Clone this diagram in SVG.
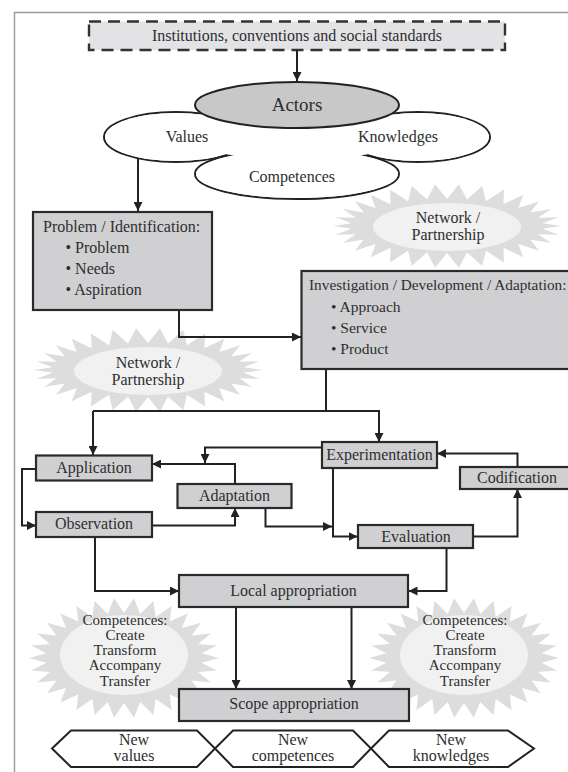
<svg xmlns="http://www.w3.org/2000/svg" width="568" height="772" viewBox="0 0 568 772" font-family="'Liberation Serif', 'Times New Roman', serif">
<style>
text{font-family:'Liberation Serif','Times New Roman',serif;fill:#2e2e2e;}
.c{text-anchor:middle;}
.box{fill:#d0d0d2;stroke:#2a2a2a;stroke-width:2.2;}
.ln{fill:none;stroke:#222;stroke-width:2;}
.arr{marker-end:url(#ah);}
.star{fill:#dddddd;}
.inner{fill:#f1f1f1;}
.wh{fill:#fff;stroke:#222;stroke-width:2;}
.whf{fill:#fff;stroke:none;}
.hex{fill:#fff;stroke:#222;stroke-width:2;stroke-linejoin:miter;}
</style>
<defs>
<marker id="ah" viewBox="0 0 10 10" refX="10" refY="5" markerWidth="9" markerHeight="9" markerUnits="userSpaceOnUse" orient="auto">
<path d="M0,0 L10,5 L0,10 Z" fill="#222"/>
</marker>
<path id="starA" d="M114,0 L95.5,2.8 111.5,8.7 91.3,8.3 104.1,17.1 83.1,13.5 92.2,24.7 71.3,18.1 76.3,31.2 56.4,21.8 57,36.4 39,24.7 35.2,39.9 20,26.4 11.9,41.8 0,27 -11.9,41.8 -20,26.4 -35.2,39.9 -39,24.7 -57,36.4 -56.4,21.8 -76.3,31.2 -71.3,18.1 -92.2,24.7 -83.1,13.5 -104.1,17.1 -91.3,8.3 -111.5,8.7 -95.5,2.8 -114,0 -95.5,-2.8 -111.5,-8.7 -91.3,-8.3 -104.1,-17.1 -83.1,-13.5 -92.2,-24.7 -71.3,-18.1 -76.3,-31.2 -56.4,-21.8 -57,-36.4 -39,-24.7 -35.2,-39.9 -20,-26.4 -11.9,-41.8 0,-27 11.9,-41.8 20,-26.4 35.2,-39.9 39,-24.7 57,-36.4 56.4,-21.8 76.3,-31.2 71.3,-18.1 92.2,-24.7 83.1,-13.5 104.1,-17.1 91.3,-8.3 111.5,-8.7 95.5,-2.8 Z"/>
<path id="starB" d="M95,0 L77.6,4.7 92.9,12.5 74.2,13.9 86.8,24.4 67.5,22.5 76.9,35.3 58,30.1 63.6,44.6 45.8,36.4 47.5,52 31.7,41.1 29.4,57.1 16.2,44 9.9,59.7 0,45 -9.9,59.7 -16.2,44 -29.4,57.1 -31.7,41.1 -47.5,52 -45.8,36.4 -63.6,44.6 -58,30.1 -76.9,35.3 -67.5,22.5 -86.8,24.4 -74.2,13.9 -92.9,12.5 -77.6,4.7 -95,0 -77.6,-4.7 -92.9,-12.5 -74.2,-13.9 -86.8,-24.4 -67.5,-22.5 -76.9,-35.3 -58,-30.1 -63.6,-44.6 -45.8,-36.4 -47.5,-52 -31.7,-41.1 -29.4,-57.1 -16.2,-44 -9.9,-59.7 0,-45 9.9,-59.7 16.2,-44 29.4,-57.1 31.7,-41.1 47.5,-52 45.8,-36.4 63.6,-44.6 58,-30.1 76.9,-35.3 67.5,-22.5 86.8,-24.4 74.2,-13.9 92.9,-12.5 77.6,-4.7 Z"/>
</defs>
<rect x="0" y="0" width="568" height="772" fill="#fff"/>
<path d="M14.5,772 V12.5 H568" fill="none" stroke="#9a9a9a" stroke-width="1.4"/>

<g id="network-top">
<use href="#starA" class="star" transform="translate(447,226)"/>
<ellipse class="inner" cx="447" cy="227" rx="74" ry="24"/>
<text class="c" x="448" y="223" font-size="16">Network /</text>
<text class="c" x="448" y="240" font-size="16">Partnership</text>
</g>
<g id="network-left">
<use href="#starA" class="star" transform="translate(148,370)"/>
<ellipse class="inner" cx="148" cy="371" rx="74" ry="24"/>
<text class="c" x="148" y="368" font-size="16">Network /</text>
<text class="c" x="148" y="385" font-size="16">Partnership</text>
</g>
<g id="competences-left">
<use href="#starB" class="star" transform="translate(124,658)"/>
<ellipse class="inner" cx="124" cy="655" rx="64" ry="40"/>
<text class="c" x="125" y="625" font-size="15">Competences:</text>
<text class="c" x="125" y="640" font-size="15">Create</text>
<text class="c" x="125" y="655" font-size="15">Transform</text>
<text class="c" x="125" y="670" font-size="15">Accompany</text>
<text class="c" x="125" y="686" font-size="15">Transfer</text>
</g>
<g id="competences-right">
<use href="#starB" class="star" transform="translate(464,658)"/>
<ellipse class="inner" cx="464" cy="655" rx="64" ry="40"/>
<text class="c" x="465" y="625" font-size="15">Competences:</text>
<text class="c" x="465" y="640" font-size="15">Create</text>
<text class="c" x="465" y="655" font-size="15">Transform</text>
<text class="c" x="465" y="670" font-size="15">Accompany</text>
<text class="c" x="465" y="686" font-size="15">Transfer</text>
</g>

<g id="institutions">
<rect x="89" y="21.5" width="416" height="28.5" fill="#e3e3e6" stroke="#333" stroke-width="2.4" stroke-dasharray="12,7"/>
<text class="c" x="297" y="40.5" font-size="16">Institutions, conventions and social standards</text>
</g>

<g id="actors-cloud">
<ellipse class="wh" cx="176" cy="137" rx="72" ry="25"/>
<ellipse class="wh" cx="418" cy="137" rx="72" ry="25"/>
<ellipse class="wh" cx="297" cy="174" rx="102" ry="25"/>
<ellipse class="whf" cx="176" cy="137" rx="71" ry="24"/>
<ellipse class="whf" cx="418" cy="137" rx="71" ry="24"/>
<ellipse class="whf" cx="297" cy="174" rx="101" ry="24"/>
<ellipse class="whf" cx="297" cy="140" rx="100" ry="20"/>
<ellipse cx="297" cy="105" rx="102" ry="23" fill="#c8c8c8" stroke="#222" stroke-width="2"/>
<text class="c" x="297" y="111" font-size="19">Actors</text>
<text class="c" x="187" y="142" font-size="16">Values</text>
<text class="c" x="398" y="142" font-size="16">Knowledges</text>
<text class="c" x="292" y="182" font-size="16">Competences</text>
</g>

<g id="connectors">
<path class="ln arr" d="M297,50 V81"/>
<path class="ln arr" d="M138,158 V211"/>
<path class="ln arr" d="M179,310 V337 H301"/>
<path class="ln" d="M326,369 V411"/>
<path class="ln arr" d="M93,411 V455"/>
<path class="ln arr" d="M93,411 H379 V442"/>
<path class="ln arr" d="M36,469 H22 V525.5 H36"/>
<path class="ln arr" d="M235,484 V464 H152"/>
<path class="ln arr" d="M322,447.5 H205 V463"/>
<path class="ln arr" d="M152,525.5 H235 V508"/>
<path class="ln arr" d="M265.5,508 V526.5 H332"/>
<path class="ln arr" d="M333,468 V536.5 H357.5"/>
<path class="ln arr" d="M473,536.5 H517.5 V489"/>
<path class="ln arr" d="M517.5,467 V453.5 H437"/>
<path class="ln arr" d="M95,537 V591 H179"/>
<path class="ln arr" d="M446.5,548 V591 H408.5"/>
<path class="ln arr" d="M236,607 V689"/>
<path class="ln arr" d="M351.5,607 V689"/>
</g>

<g id="problem">
<rect class="box" x="33" y="212" width="179" height="98"/>
<text x="43" y="232" font-size="16">Problem / Identification:</text>
<text x="65.5" y="253" font-size="16">• Problem</text>
<text x="65.5" y="274" font-size="16">• Needs</text>
<text x="65.5" y="295" font-size="16">• Aspiration</text>
</g>
<g id="investigation">
<rect class="box" x="301.5" y="271" width="280" height="98"/>
<text x="309" y="290" font-size="15.3">Investigation / Development / Adaptation:</text>
<text x="331" y="312" font-size="15.5">• Approach</text>
<text x="331" y="333" font-size="15.5">• Service</text>
<text x="331" y="354" font-size="15.5">• Product</text>
</g>
<g id="application">
<rect class="box" x="36" y="455.5" width="116" height="25"/>
<text class="c" x="94" y="473" font-size="16">Application</text>
</g>
<g id="adaptation">
<rect class="box" x="177.5" y="484" width="114" height="24"/>
<text class="c" x="234.5" y="500.5" font-size="16">Adaptation</text>
</g>
<g id="observation">
<rect class="box" x="36" y="512" width="116" height="25"/>
<text class="c" x="94" y="529" font-size="16">Observation</text>
</g>
<g id="experimentation">
<rect class="box" x="322" y="442" width="115" height="26"/>
<text class="c" x="379.5" y="460" font-size="16">Experimentation</text>
</g>
<g id="codification">
<rect class="box" x="460" y="467" width="112" height="22"/>
<text class="c" x="517" y="483" font-size="16">Codification</text>
</g>
<g id="evaluation">
<rect class="box" x="358" y="525" width="115" height="23"/>
<text class="c" x="416" y="542" font-size="16">Evaluation</text>
</g>
<g id="local-appropriation">
<rect class="box" x="179" y="575" width="229" height="32"/>
<text class="c" x="293.5" y="596" font-size="16">Local appropriation</text>
</g>
<g id="scope-appropriation">
<rect class="box" x="179" y="689" width="230" height="32"/>
<text class="c" x="294" y="709" font-size="16">Scope appropriation</text>
</g>

<g id="new-values">
<polygon class="hex" points="52,748.5 71,730.5 197,730.5 215,748.5 197,767 71,767"/>
<text class="c" x="134" y="745" font-size="16">New</text>
<text class="c" x="134" y="761" font-size="16">values</text>
</g>
<g id="new-competences">
<polygon class="hex" points="215,748.5 233,730.5 353,730.5 371,748.5 353,767 233,767"/>
<text class="c" x="293" y="745" font-size="16">New</text>
<text class="c" x="293" y="761" font-size="16">competences</text>
</g>
<g id="new-knowledges">
<polygon class="hex" points="371,748.5 389,730.5 508,730.5 534,748.5 508,767 389,767"/>
<text class="c" x="451" y="745" font-size="16">New</text>
<text class="c" x="451" y="761" font-size="16">knowledges</text>
</g>
</svg>
